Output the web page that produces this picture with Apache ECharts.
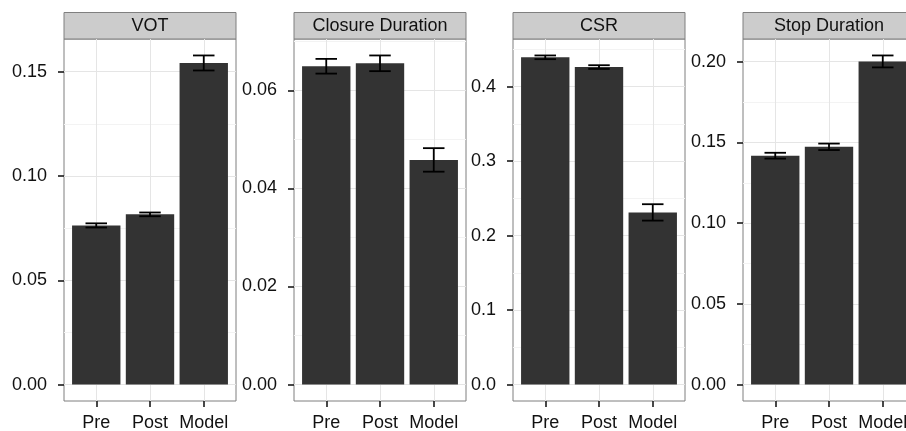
<!DOCTYPE html>
<html>
<head>
<meta charset="utf-8">
<script src="https://cdn.jsdelivr.net/npm/echarts@6.0.0/dist/echarts.min.js"></script>
<style>
  html, body { margin: 0; padding: 0; background: #fff; overflow: hidden; }
  #chart { width: 906px; height: 431px; }
</style>
</head>
<body>
<div id="chart"></div>
<script>
const categories = ['Pre', 'Post', 'Model']
const panelTitles = ['VOT', 'Closure Duration', 'CSR', 'Stop Duration']

// bar heights and error half-widths
const votMean = [0.0763, 0.0816, 0.1542]
const votErr = [0.0010, 0.0009, 0.0036]
const closureMean = [0.0649, 0.0655, 0.0458]
const closureErr = [0.0015, 0.0016, 0.0024]
const csrMean = [0.4393, 0.4262, 0.2311]
const csrErr = [0.0025, 0.0025, 0.0110]
const stopMean = [0.1418, 0.1473, 0.2002]
const stopErr = [0.0018, 0.0020, 0.0037]

// y tick labels (major) and minor grid values
const votTicks = ['0.00', '0.05', '0.10', '0.15']
const votMinor = [0.025, 0.075, 0.125]
const closureTicks = ['0.00', '0.02', '0.04', '0.06']
const closureMinor = [0.01, 0.03, 0.05, 0.07]
const csrTicks = ['0.0', '0.1', '0.2', '0.3', '0.4']
const csrMinor = [0.05, 0.15, 0.25, 0.35, 0.45]
const stopTicks = ['0.00', '0.05', '0.10', '0.15', '0.20']
const stopMinor = [0.025, 0.075, 0.125, 0.175]

const panels = [
  { title: panelTitles[0], mean: votMean, err: votErr, ticks: votTicks, minor: votMinor },
  { title: panelTitles[1], mean: closureMean, err: closureErr, ticks: closureTicks, minor: closureMinor },
  { title: panelTitles[2], mean: csrMean, err: csrErr, ticks: csrTicks, minor: csrMinor },
  { title: panelTitles[3], mean: stopMean, err: stopErr, ticks: stopTicks, minor: stopMinor },
]

const panelLefts = [64, 294, 513, 743]
const PANEL_W = 172
const PANEL_TOP = 39
const PANEL_H = 362
const STRIP_TOP = 12.5
const FONT = '"Liberation Sans", Arial, Helvetica, sans-serif'
const TEXT_COLOR = '#111'
const TICK_STYLE = { color: '#1a1a1a', width: 1.6 }
const CAT_POS = categories.map((c, i) => i + 1)

// ggplot style: include 0 and the error bars, then pad 5%
function yLimits(mean, err) {
  const hi = Math.max(...mean.map((m, i) => m + err[i]))
  const lo = Math.min(0, ...mean.map((m, i) => m - err[i]))
  const pad = (hi - lo) * 0.05
  return [lo - pad, hi + pad]
}

const grid = []
const xAxis = []
const yAxis = []
const series = []
const graphic = []

panels.forEach((p, i) => {
  const left = panelLefts[i]
  const [ymin, ymax] = yLimits(p.mean, p.err)
  const tickVals = p.ticks.map(Number)

  grid.push({
    left, top: PANEL_TOP, width: PANEL_W, height: PANEL_H,
    show: true, backgroundColor: '#fff', borderColor: '#7f7f7f', borderWidth: 1,
    outerBoundsMode: 'none',
  })

  xAxis.push({
    type: 'value', gridIndex: i, min: 0.4, max: 3.6,
    axisLine: { show: false, onZero: false },
    axisTick: { show: true, length: 6, customValues: CAT_POS, lineStyle: TICK_STYLE },
    axisLabel: {
      customValues: CAT_POS,
      formatter: (v) => categories[Math.round(v) - 1],
      margin: 13, fontSize: 18, color: TEXT_COLOR, fontFamily: FONT,
    },
    splitLine: { show: true, lineStyle: { color: '#e5e5e5', width: 1 } },
  })

  yAxis.push({
    type: 'value', gridIndex: i, min: ymin, max: ymax, position: 'left',
    axisLine: { show: false, onZero: false },
    axisTick: { show: true, length: 6, customValues: tickVals, lineStyle: TICK_STYLE },
    axisLabel: {
      customValues: tickVals,
      formatter: (v) => p.ticks[tickVals.findIndex((t) => Math.abs(t - v) < 1e-9)],
      margin: 17, fontSize: 18, color: TEXT_COLOR, fontFamily: FONT,
    },
    splitLine: { show: true, lineStyle: { color: '#e5e5e5', width: 1 } },
  })
  // second axis only for the faint minor grid lines
  yAxis.push({
    type: 'value', gridIndex: i, min: ymin, max: ymax, position: 'left',
    axisLine: { show: false, onZero: false },
    axisTick: { show: false, customValues: p.minor },
    axisLabel: { show: false },
    splitLine: { show: true, lineStyle: { color: '#f3f3f3', width: 1 } },
  })

  series.push({
    type: 'bar', xAxisIndex: i, yAxisIndex: 2 * i,
    data: p.mean.map((m, k) => [k + 1, m]),
    barCategoryGap: '10%',
    itemStyle: { color: '#333333' },
    silent: true,
  })

  series.push({
    type: 'custom', xAxisIndex: i, yAxisIndex: 2 * i,
    data: p.mean.map((m, k) => [k + 1, m - p.err[k], m + p.err[k]]),
    encode: { x: 0, y: [1, 2] },
    z: 5,
    silent: true,
    renderItem(params, api) {
      const x = api.value(0)
      const top = api.coord([x, api.value(2)])
      const bot = api.coord([x, api.value(1)])
      const half = api.size([0.4, 0])[0] / 2
      const style = { stroke: '#000', lineWidth: 1.8, fill: null }
      return {
        type: 'group',
        children: [
          { type: 'line', shape: { x1: top[0], y1: top[1], x2: bot[0], y2: bot[1] }, style },
          { type: 'line', shape: { x1: top[0] - half, y1: top[1], x2: top[0] + half, y2: top[1] }, style },
          { type: 'line', shape: { x1: bot[0] - half, y1: bot[1], x2: bot[0] + half, y2: bot[1] }, style },
        ],
      }
    },
  })

  // facet strip
  graphic.push({
    type: 'rect',
    shape: { x: left, y: STRIP_TOP, width: PANEL_W, height: PANEL_TOP - STRIP_TOP },
    style: { fill: '#cccccc', stroke: '#7f7f7f', lineWidth: 1 },
    silent: true,
  })
  graphic.push({
    type: 'text',
    x: left + PANEL_W / 2,
    y: (STRIP_TOP + PANEL_TOP) / 2 + 0.5,
    style: {
      text: p.title, fill: TEXT_COLOR, fontSize: 18, fontFamily: FONT,
      align: 'center', verticalAlign: 'middle',
    },
    silent: true,
  })
})

const chart = echarts.init(document.getElementById('chart'), null, { renderer: 'canvas' })
chart.setOption({
  animation: false,
  backgroundColor: '#fff',
  grid, xAxis, yAxis, series, graphic,
})
</script>
</body>
</html>
